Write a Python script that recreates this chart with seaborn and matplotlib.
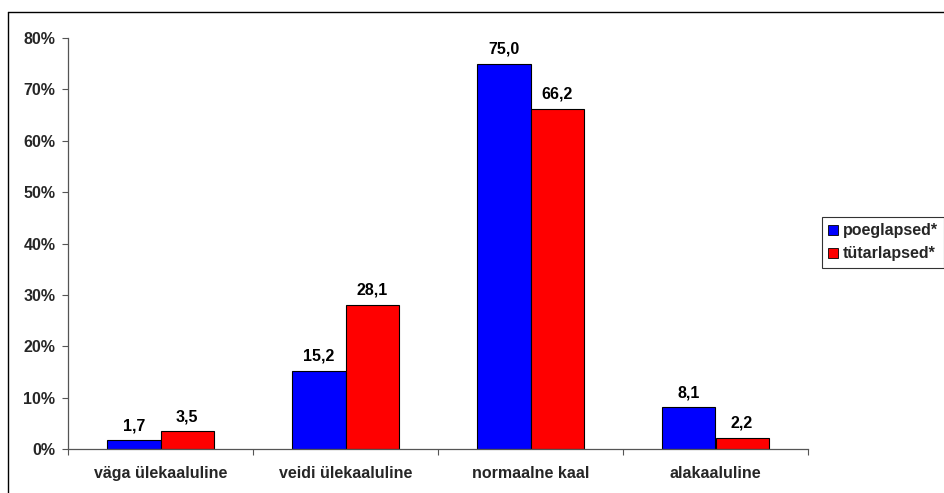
import matplotlib
matplotlib.use("Agg")
import matplotlib.pyplot as plt
from matplotlib.lines import Line2D
from matplotlib.ticker import FixedLocator, FuncFormatter
import seaborn as sns
import pandas as pd

categories = ["väga ülekaaluline", "veidi ülekaaluline", "normaalne kaal", "alakaaluline"]
series_names = ["poeglapsed*", "tütarlapsed*"]
boys = [1.7, 15.2, 75.0, 8.1]
girls = [3.5, 28.1, 66.2, 2.2]
y_ticks = [0, 10, 20, 30, 40, 50, 60, 70, 80]

df = pd.DataFrame({
    "kategooria": categories * 2,
    "rühm": [series_names[0]] * len(categories) + [series_names[1]] * len(categories),
    "väärtus": boys + girls,
})

sns.set_theme(style="white")
plt.rcParams["font.family"] = ["Liberation Sans", "DejaVu Sans"]
plt.rcParams["font.weight"] = "bold"

FS = 11.5

fig = plt.figure(figsize=(9.44, 4.93), dpi=100)
ax = fig.add_axes([68 / 944, 44 / 493, 740 / 944, 411 / 493])

sns.barplot(data=df, x="kategooria", y="väärtus", hue="rühm",
            order=categories, hue_order=series_names,
            palette=["#0000FF", "#FF0000"], width=0.575, gap=0,
            edgecolor="black", linewidth=0.8, saturation=1, ax=ax)

ax.set_xlim(-0.5, len(categories) - 0.5)
ax.set_ylim(0, 80)
ax.set_xlabel("")
ax.set_ylabel("")

# value labels above each bar
for container in ax.containers:
    ax.bar_label(container, labels=[f"{v.get_height():.1f}".replace(".", ",") for v in container],
                 padding=5, fontsize=FS, fontweight="bold", color="black")

ax.yaxis.set_major_locator(FixedLocator(y_ticks))
ax.yaxis.set_major_formatter(FuncFormatter(lambda v, p: f"{int(v)}%"))
ax.tick_params(axis="y", which="major", direction="out", length=4, width=0.8,
               color="#555555", labelsize=FS, pad=5, left=True)
ax.xaxis.set_minor_locator(FixedLocator([i - 0.5 for i in range(len(categories) + 1)]))
ax.tick_params(axis="x", which="major", length=0, labelsize=FS, pad=12)
ax.tick_params(axis="x", which="minor", direction="out", length=4, width=0.8,
               color="#555555", bottom=True)
for lbl in ax.get_xticklabels() + ax.get_yticklabels():
    lbl.set_fontweight("bold")

for side in ["top", "right"]:
    ax.spines[side].set_visible(False)
for side in ["left", "bottom"]:
    ax.spines[side].set_color("#555555")
    ax.spines[side].set_linewidth(0.9)

leg = ax.legend(loc="upper left", bbox_to_anchor=(822 / 944, 1 - 217 / 493),
                bbox_transform=fig.transFigure, frameon=True, fancybox=False,
                fontsize=FS, handlelength=0.6, handleheight=0.6, handletextpad=0.3,
                borderpad=0.4, labelspacing=0.5, borderaxespad=0)
leg.get_frame().set_edgecolor("black")
leg.get_frame().set_linewidth(0.8)
for t in leg.get_texts():
    t.set_fontweight("bold")
for h in leg.legend_handles:
    h.set_edgecolor("black")
    h.set_linewidth(0.6)

# outer chart frame
fig.add_artist(Line2D([8 / 944, 8 / 944], [0, 1 - 12 / 493], color="black", lw=1.0,
                      transform=fig.transFigure))
fig.add_artist(Line2D([8 / 944, 1], [1 - 12 / 493, 1 - 12 / 493], color="black", lw=1.0,
                      transform=fig.transFigure))

fig.savefig("out.png", dpi=100, facecolor="white")
